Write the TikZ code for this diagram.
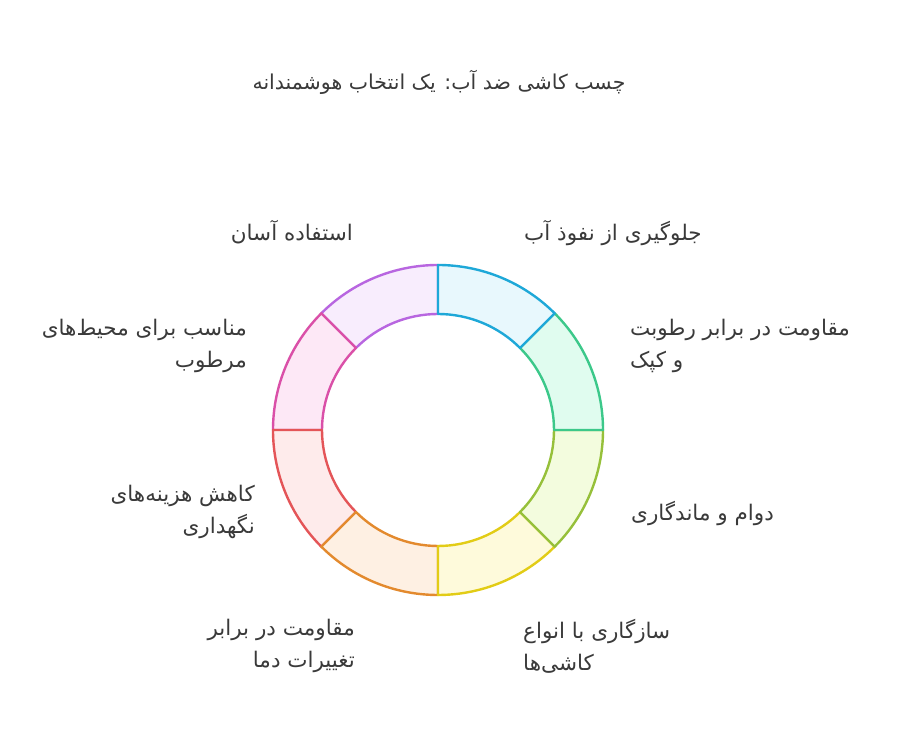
\documentclass[tikz,border=0pt]{standalone}
\usepackage{fontspec}
\newfontfamily\arabicfont[Script=Arabic]{DejaVu Sans}
\TeXXeTstate=1
\usetikzlibrary{positioning}

\definecolor{txtgray}{HTML}{3A3A3A}
\definecolor{cyanline}{HTML}{1EA8D8}\definecolor{cyanfill}{HTML}{E8F8FD}
\definecolor{greenline}{HTML}{3CC88A}\definecolor{greenfill}{HTML}{E0FCEF}
\definecolor{limeline}{HTML}{96C03A}\definecolor{limefill}{HTML}{F3FCDE}
\definecolor{yellowline}{HTML}{E2CC16}\definecolor{yellowfill}{HTML}{FEFADB}
\definecolor{orangeline}{HTML}{E38A2E}\definecolor{orangefill}{HTML}{FEF0E3}
\definecolor{redline}{HTML}{E45558}\definecolor{redfill}{HTML}{FEEBEB}
\definecolor{pinkline}{HTML}{DA50A8}\definecolor{pinkfill}{HTML}{FDE8F6}
\definecolor{purpleline}{HTML}{B866E0}\definecolor{purplefill}{HTML}{F8EDFD}

\begin{document}
\begin{tikzpicture}[x=1pt, y=1pt,
    seg/.style={line width=2.4pt, line join=round},
    lbl/.style={text=txtgray, inner sep=0pt, font=\arabicfont\fontsize{21.5}{32}\selectfont},
    lblright/.style={lbl, anchor=west, align=left},
    lblleft/.style={lbl, anchor=east, align=right}]
    \useasboundingbox (0,0) rectangle (911,746);
    \coordinate (ringc) at (438,316);

    % Titulo
    \node [lbl, font=\arabicfont\fontsize{20.5}{32}\selectfont] (title) at (439,664) {\beginR چسب کاشی ضد آب: یک انتخاب هوشمندانه\endR};

    % Segmentos del anillo
    \draw [seg, draw=purpleline, fill=purplefill] (ringc) ++(135:165) arc[start angle=135, end angle=90, radius=165] -- ++(90:-49) arc[start angle=90, end angle=135, radius=116] -- cycle;
    \draw [seg, draw=pinkline, fill=pinkfill] (ringc) ++(180:165) arc[start angle=180, end angle=135, radius=165] -- ++(135:-49) arc[start angle=135, end angle=180, radius=116] -- cycle;
    \draw [seg, draw=redline, fill=redfill] (ringc) ++(225:165) arc[start angle=225, end angle=180, radius=165] -- ++(180:-49) arc[start angle=180, end angle=225, radius=116] -- cycle;
    \draw [seg, draw=orangeline, fill=orangefill] (ringc) ++(270:165) arc[start angle=270, end angle=225, radius=165] -- ++(225:-49) arc[start angle=225, end angle=270, radius=116] -- cycle;
    \draw [seg, draw=yellowline, fill=yellowfill] (ringc) ++(315:165) arc[start angle=315, end angle=270, radius=165] -- ++(270:-49) arc[start angle=270, end angle=315, radius=116] -- cycle;
    \draw [seg, draw=limeline, fill=limefill] (ringc) ++(0:165) arc[start angle=0, end angle=-45, radius=165] -- ++(-45:-49) arc[start angle=-45, end angle=0, radius=116] -- cycle;
    \draw [seg, draw=greenline, fill=greenfill] (ringc) ++(45:165) arc[start angle=45, end angle=0, radius=165] -- ++(0:-49) arc[start angle=0, end angle=45, radius=116] -- cycle;
    \draw [seg, draw=cyanline, fill=cyanfill] (ringc) ++(90:165) arc[start angle=90, end angle=45, radius=165] -- ++(45:-49) arc[start angle=45, end angle=90, radius=116] -- cycle;

    % Etiquetas a la derecha
    \node [lblright] (water) at (524,513) {\beginR جلوگیری از نفوذ آب\endR};
    \node [lblright] (mould) at (630,400) {\beginR مقاومت در برابر رطوبت\endR\\\beginR و کپک\endR};
    \node [lblright] (durable) at (631,232) {\beginR دوام و ماندگاری\endR};
    \node [lblright] (tiles) at (523,100) {\beginR سازگاری با انواع\endR\\\beginR کاشی‌ها\endR};

    % Etiquetas a la izquierda
    \node [lblleft] (temp) at (355,100) {\beginR مقاومت در برابر\endR\\\beginR تغییرات دما\endR};
    \node [lblleft] (cost) at (255,234) {\beginR کاهش هزینه‌های\endR\\\beginR نگهداری\endR};
    \node [lblleft] (humid) at (247,400) {\beginR مناسب برای محیط‌های\endR\\\beginR مرطوب\endR};
    \node [lblleft] (easy) at (353,514) {\beginR استفاده آسان\endR};

\end{tikzpicture}
\end{document}
